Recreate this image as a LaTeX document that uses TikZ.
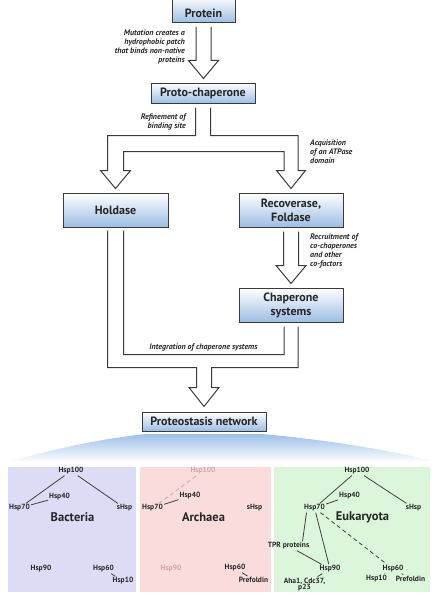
\documentclass[tikz,border=0pt]{standalone}
\usepackage{fontspec}
\setmainfont{PT Sans}
\usetikzlibrary{calc}
\definecolor{boxline}{HTML}{3A3A3A}
\definecolor{boxblue}{HTML}{9DBDE4}
\definecolor{fanblue}{HTML}{9EBFE8}
\definecolor{bactfill}{HTML}{DCDCF7}
\definecolor{archfill}{HTML}{FADCDC}
\definecolor{eukfill}{HTML}{DCF6DC}
\definecolor{fadedpink}{HTML}{D0A6A6}
\definecolor{inktext}{HTML}{262626}
\tikzset{
    stagebox/.style={
        rectangle, draw=boxline, line width=1pt,
        top color=white, bottom color=boxblue,
        font=\bfseries\fontsize{12}{14}\selectfont, text=inktext,
        align=center, inner sep=2pt
    },
    steplabel/.style={font=\bfseries\itshape\fontsize{8}{9}\selectfont, text=inktext, inner sep=0pt},
    blockarrow/.style={draw=boxline, line width=1pt, fill=white, line join=miter},
    panel/.style={rectangle, draw=none, inner sep=0pt},
    kingdom/.style={font=\bfseries\fontsize{12.5}{14}\selectfont, text=inktext, inner sep=1pt},
    hsp/.style={font=\bfseries\fontsize{7.5}{8}\selectfont, text=inktext, inner sep=1pt},
    fadedhsp/.style={hsp, text=fadedpink},
    link/.style={draw=black!75, line width=0.8pt},
}
% straight hollow arrow from one stage to the next
\newcommand{\blockarrow}[2]{%
    \path[blockarrow] let \p1=(#1.south), \p2=(#2.north) in
        (\x1-7.5pt,\y1-4pt) -- (\x1-7.5pt,\y2+22pt) -- (\x1-15pt,\y2+22pt) -- (\x1,\y2+4pt)
        -- (\x1+15pt,\y2+22pt) -- (\x1+7.5pt,\y2+22pt) -- (\x1+7.5pt,\y1-4pt);
}
\begin{document}
\begin{tikzpicture}[x=1pt, y=-1pt]
    \useasboundingbox (0,0) rectangle (444,602);

    % Stages
    \node[stagebox, minimum width=63pt, text height=16pt, text depth=0pt, inner ysep=5pt, anchor=south] (protein) at (203.5,23) {Protein};
    \node[stagebox, minimum width=104pt, minimum height=20pt] (proto) at (203,93) {Proto-chaperone};
    \node[stagebox, minimum width=105pt, minimum height=34pt] (holdase) at (115.5,210) {Holdase};
    \node[stagebox, minimum width=104pt, minimum height=34pt] (recov) at (291,210) {Recoverase,\\Foldase};
    \node[stagebox, minimum width=104pt, minimum height=34pt] (chapsys) at (291,305) {Chaperone\\systems};
    \node[stagebox, minimum width=124pt, minimum height=19pt] (proteo) at (204,421.5) {Proteostasis network};

    % Hollow arrows
    \blockarrow{protein}{proto}
    \blockarrow{recov}{chapsys}

    % split into holdase and recoverase
    \path[blockarrow] let \p1=(proto.south), \p2=(holdase.north), \p3=(recov.north) in
        (\x1-7.5pt,\y1-4pt) -- (\x1-7.5pt,\y1-32pt) -- (\x2-8pt,\y1-32pt) -- (\x2-8pt,\y2+22pt)
        -- (\x2-15pt,\y2+22pt) -- (\x2,\y2+4pt) -- (\x2+15pt,\y2+22pt) -- (\x2+8pt,\y2+22pt)
        -- (\x2+8pt,\y1-48pt) -- (\x3-7pt,\y1-48pt) -- (\x3-7pt,\y3+22pt)
        -- (\x3-14.5pt,\y3+22pt) -- (\x3,\y3+4pt) -- (\x3+14.5pt,\y3+22pt) -- (\x3+7pt,\y3+22pt)
        -- (\x3+7pt,\y1-32pt) -- (\x1+7.5pt,\y1-32pt) -- (\x1+7.5pt,\y1-4pt);

    % merge into the proteostasis network
    \path[fill=white] let \p1=(holdase.south), \p2=(chapsys.south), \p3=(proteo.north) in
        (\x1-8pt,\y1-3pt) -- (\x1-8pt,\y3+44pt) -- (\x3-7.5pt,\y3+44pt) -- (\x3-7.5pt,\y3+24pt)
        -- (\x3-15pt,\y3+24pt) -- (\x3,\y3+5pt) -- (\x3+15pt,\y3+24pt) -- (\x3+7.5pt,\y3+24pt)
        -- (\x3+7.5pt,\y3+44pt) -- (\x2+7pt,\y3+44pt) -- (\x2+7pt,\y2-4pt) -- (\x2-7pt,\y2-4pt)
        -- (\x2-7pt,\y3+57pt) -- (\x1+8pt,\y3+57pt) -- (\x1+8pt,\y1-3pt) -- cycle;
    \draw[blockarrow, fill=none] let \p1=(holdase.south), \p2=(chapsys.south), \p3=(proteo.north) in
        (\x1-8pt,\y1-3pt) -- (\x1-8pt,\y3+44pt) -- (\x3-7.5pt,\y3+44pt) -- (\x3-7.5pt,\y3+24pt)
        -- (\x3-15pt,\y3+24pt) -- (\x3,\y3+5pt) -- (\x3+15pt,\y3+24pt) -- (\x3+7.5pt,\y3+24pt)
        -- (\x3+7.5pt,\y3+44pt) -- (\x2+7pt,\y3+44pt) -- (\x2+7pt,\y2-4pt)
        (\x2-7pt,\y2-4pt) -- (\x2-7pt,\y3+57pt) -- (\x1+8pt,\y3+57pt) -- (\x1+8pt,\y1-3pt);

    % Arrow labels
    \node[steplabel, align=right, anchor=east] (mutlabel) at (185,46.5) {Mutation creates a\\hydrophobic patch\\that binds non-native\\proteins};
    \node[steplabel, align=right, anchor=east] (reflabel) at (186,121.5) {Refinement of\\binding site};
    \node[steplabel, align=left, anchor=west] (atplabel) at (310,152) {Acquisition\\of an ATPase\\domain};
    \node[steplabel, align=left, anchor=west] (reclabel) at (310,250.5) {Recruitment of\\co-chaperones\\and other\\co-factors};
    \node[steplabel] (intlabel) at (203.5,347) {Integration of chaperone systems};

    % Fan towards the kingdoms
    \shade[top color=fanblue, bottom color=white] (146,434) -- (262,434)
        .. controls (330,440) and (400,452) .. (436,462) -- (8,462)
        .. controls (44,452) and (90,440) .. (146,434) -- cycle;

    % Panels
    \node[panel, fill=bactfill, minimum width=128pt, minimum height=125pt] (bactpanel) at (72,529.5) {};
    \node[panel, fill=archfill, minimum width=131pt, minimum height=125pt] (archpanel) at (205.5,529.5) {};
    \node[panel, fill=eukfill, minimum width=156pt, minimum height=125pt] (eukpanel) at (352,529.5) {};

    % Bacteria
    \node[kingdom] (bname) at (72.5,517) {Bacteria};
    \node[hsp] (bh100) at (71,471) {Hsp100};
    \node[hsp] (bh40) at (59.5,497) {Hsp40};
    \node[hsp] (bh70) at (19.5,508) {Hsp70};
    \node[hsp] (bshsp) at (124.5,508) {sHsp};
    \node[hsp] (bh90) at (41,569) {Hsp90};
    \node[hsp] (bh60) at (103.5,569) {Hsp60};
    \node[hsp] (bh10) at (123,581) {Hsp10};
    \draw[link] (bh100) -- (bh70);
    \draw[link] (bh70) -- (bh40);
    \draw[link] (bh100) -- (bshsp);
    \draw[link] (bh60) -- (bh10);

    % Archaea
    \node[kingdom] (aname) at (203.5,517) {Archaea};
    \node[fadedhsp] (ah100) at (203,471) {Hsp100};
    \node[hsp] (ah40) at (190,496) {Hsp40};
    \node[hsp] (ah70) at (152.5,508) {Hsp70};
    \node[hsp] (ashsp) at (254.5,508) {sHsp};
    \node[fadedhsp] (ah90) at (171,569) {Hsp90};
    \node[hsp] (ah60) at (235,568) {Hsp60};
    \node[hsp] (apref) at (253.5,580) {Prefoldin};
    \draw[link, draw=fadedpink, dash pattern=on 4pt off 3pt] (ah70) -- (ah100);
    \draw[link] (ah70) -- (ah40);
    \draw[link] (ah60) -- (apref);

    % Eukaryota
    \node[kingdom] (ename) at (362.5,517) {Eukaryota};
    \node[hsp] (eh100) at (357,471) {Hsp100};
    \node[hsp] (eh40) at (349.5,496) {Hsp40};
    \node[hsp] (eh70) at (314.5,508) {Hsp70};
    \node[hsp] (eshsp) at (413.5,508) {sHsp};
    \node[hsp] (etpr) at (288.5,546) {TPR proteins};
    \node[hsp] (eh90) at (330,569) {Hsp90};
    \node[hsp, align=center, font=\bfseries\fontsize{7.5}{6.5}\selectfont] (eaha) at (304.5,584.5) {Aha1, Cdc37,\\p23};
    \node[hsp] (eh60) at (393,569) {Hsp60};
    \node[hsp] (eh10) at (376.5,578.5) {Hsp10};
    \node[hsp] (epref) at (410.5,578.5) {Prefoldin};
    \draw[link] (eh100) -- (eh70);
    \draw[link] (eh70) -- (eh40);
    \draw[link] (eh100) -- (eshsp);
    \draw[link] ([xshift=-8pt]eh70.south) -- ([xshift=14pt]etpr.north);
    \draw[link] (eh70) -- (eh90);
    \draw[link] (etpr) -- (eh90);
    \draw[link] (eh90) -- (eaha);
    \draw[link, dash pattern=on 4pt off 3pt] (eh70) -- (eh60);
    \draw[link] (eh60) -- (eh10);
    \draw[link] (eh60) -- (epref);
\end{tikzpicture}
\end{document}
